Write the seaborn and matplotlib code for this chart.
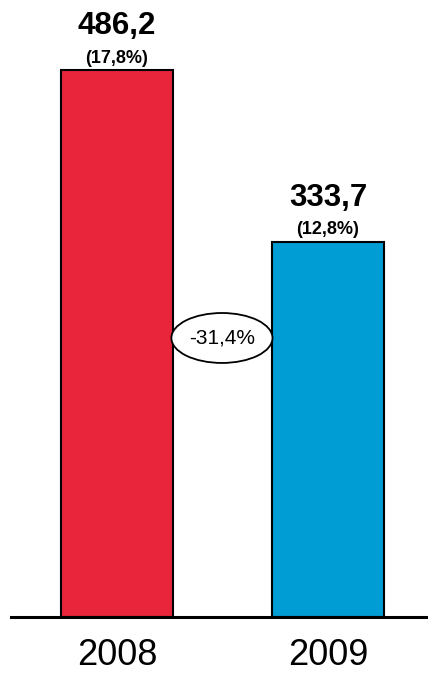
import matplotlib
matplotlib.use("Agg")
import matplotlib.pyplot as plt
from matplotlib.patches import Ellipse
import seaborn as sns
import pandas as pd

years = ["2008", "2009"]
values = [486.2, 333.7]
value_labels = ["486,2", "333,7"]
share_labels = ["(17,8%)", "(12,8%)"]
change_label = "-31,4%"
bar_colors = ["#E8253A", "#009DD5"]

sns.set_style("white")
plt.rcParams["font.family"] = ["Liberation Sans", "DejaVu Sans"]
plt.rcParams["text.color"] = "black"
plt.rcParams["xtick.color"] = "black"

df = pd.DataFrame({"year": years, "value": values})

fig = plt.figure(figsize=(4.28, 6.73), dpi=100)
ax = fig.add_axes([11 / 428, 56 / 673, 417 / 428, 617 / 673])

sns.barplot(data=df, x="year", y="value", hue="year", palette=bar_colors,
            saturation=1, width=0.53, edgecolor="black", linewidth=1.5,
            legend=False, ax=ax)

ax.set_xlim(-0.502, 1.474)
ax.set_ylim(0, 548.4)

for i, v in enumerate(values):
    ax.annotate(share_labels[i], (i, v), xytext=(0, 8.5), textcoords="offset points",
                ha="center", va="center", fontsize=13, fontweight="bold")
    ax.annotate(value_labels[i], (i, v), xytext=(0, 31.5), textcoords="offset points",
                ha="center", va="center", fontsize=22.5, fontweight="bold")

# change ellipse between the bars
ell = Ellipse((0.4976, 248), width=0.479, height=44.4, facecolor="white",
              edgecolor="black", linewidth=1.3, zorder=5)
ax.add_patch(ell)
ax.text(0.4976, 248, change_label, ha="center", va="center", fontsize=15, zorder=6)

sns.despine(ax=ax, left=True, top=True, right=True)
ax.spines["bottom"].set_linewidth(2.2)
ax.spines["bottom"].set_color("black")
ax.set_yticks([])
ax.set_xlabel("")
ax.set_ylabel("")
ax.tick_params(axis="x", length=0, pad=15, labelsize=26)

fig.savefig("out.png", dpi=100)
